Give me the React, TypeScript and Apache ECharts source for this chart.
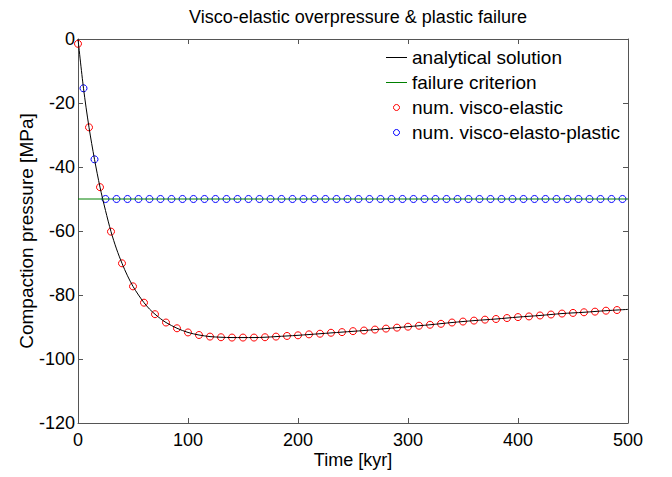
import React, { useEffect, useRef } from "react";
import * as echarts from "echarts";

const titleText = "Visco-elastic overpressure & plastic failure";
const xTicks = [0, 100, 200, 300, 400, 500];
const yTicks = [-120, -100, -80, -60, -40, -20, 0];

const analyticalTimes = [0, 5, 10, 15, 20, 25, 30, 35, 40, 45, 50, 55, 60, 65, 70, 75, 80, 90, 100, 110, 120, 130, 140, 150, 160, 170, 180, 190, 200, 220, 240, 260, 280, 300, 320, 340, 360, 380, 400, 420, 440, 460, 480, 500];
const analyticalValues = [0, -15.4, -27.6, -37.6, -46.3, -53.6, -60.2, -65.6, -70.1, -74.0, -77.3, -80.0, -82.4, -84.4, -86.0, -87.4, -88.6, -90.4, -91.7, -92.5, -93.0, -93.2, -93.3, -93.3, -93.3, -93.2, -93.0, -92.8, -92.6, -92.1, -91.6, -91.1, -90.5, -89.9, -89.3, -88.6, -88.0, -87.5, -86.9, -86.4, -85.8, -85.4, -84.9, -84.5];

const failureTimes = [0, 500];
const failureValues = [-50, -50];

const elasticTimes = [0, 10, 20, 30, 40, 50, 60, 70, 80, 90, 100, 110, 120, 130, 140, 150, 160, 170, 180, 190, 200, 210, 220, 230, 240, 250, 260, 270, 280, 290, 300, 310, 320, 330, 340, 350, 360, 370, 380, 390, 400, 410, 420, 430, 440, 450, 460, 470, 480, 490];
const elasticValues = [-1.5, -27.6, -46.3, -60.2, -70.1, -77.3, -82.4, -86.0, -88.6, -90.4, -91.7, -92.5, -93.0, -93.2, -93.3, -93.3, -93.3, -93.2, -93.0, -92.8, -92.6, -92.3, -92.1, -91.8, -91.6, -91.3, -91.1, -90.8, -90.5, -90.2, -89.9, -89.6, -89.3, -89.0, -88.6, -88.3, -88.0, -87.7, -87.5, -87.2, -86.9, -86.7, -86.4, -86.1, -85.8, -85.6, -85.4, -85.2, -84.9, -84.7];

const plasticTimes = [5, 15, 25, 35, 45, 55, 65, 75, 85, 95, 105, 115, 125, 135, 145, 155, 165, 175, 185, 195, 205, 215, 225, 235, 245, 255, 265, 275, 285, 295, 305, 315, 325, 335, 345, 355, 365, 375, 385, 395, 405, 415, 425, 435, 445, 455, 465, 475, 485, 495];
const plasticValues = [-15.4, -37.6, -50, -50, -50, -50, -50, -50, -50, -50, -50, -50, -50, -50, -50, -50, -50, -50, -50, -50, -50, -50, -50, -50, -50, -50, -50, -50, -50, -50, -50, -50, -50, -50, -50, -50, -50, -50, -50, -50, -50, -50, -50, -50, -50, -50, -50, -50, -50, -50];

const names = ["analytical solution", "failure criterion", "num. visco-elastic", "num. visco-elasto-plastic"];

const zip = (a: number[], b: number[]) => a.map((v, i) => [v, b[i]]);

const FONT = "Liberation Sans";
const AXIS_COLOR = "#555";
const LINE_ICON = "path://M0,0 L21,0 L21,1 L0,1 Z";

export default function App() {
  const ref = useRef<HTMLDivElement>(null);
  useEffect(() => {
    if (!ref.current) return;
    const chart = echarts.init(ref.current, undefined, { renderer: "svg" });
    const xMin = xTicks[0], xMax = xTicks[xTicks.length - 1];
    const yMin = yTicks[0], yMax = yTicks[yTicks.length - 1];
    const xInt = xTicks[1] - xTicks[0];
    const yInt = yTicks[1] - yTicks[0];
    const axisCommon = {
      axisLine: { show: true, onZero: false, lineStyle: { color: AXIS_COLOR, width: 1 } },
      axisTick: { show: true, inside: true, length: 5, lineStyle: { color: AXIS_COLOR } },
      splitLine: { show: false },
    };
    chart.setOption({
      animation: false,
      backgroundColor: "#fff",
      title: {
        text: titleText,
        left: 353,
        textAlign: "center",
        top: 3,
        textStyle: { fontFamily: FONT, fontSize: 18, fontWeight: "normal", color: "#000" },
      },
      legend: {
        orient: "vertical",
        left: 381,
        top: 43,
        itemWidth: 21,
        itemHeight: 6,
        itemGap: 6,
        textStyle: { fontFamily: FONT, fontSize: 19, color: "#000" },
        data: [
          { name: names[0], icon: LINE_ICON },
          { name: names[1], icon: LINE_ICON },
          { name: names[2], itemStyle: { borderWidth: 1, borderColor: "#ff0000", color: "rgba(255,255,255,0)" } },
          { name: names[3], itemStyle: { borderWidth: 1, borderColor: "#0000ff", color: "rgba(255,255,255,0)" } },
        ],
      },
      grid: { left: 78, right: 44, top: 39, bottom: 54, containLabel: false },
      xAxis: [
        {
          type: "value",
          min: xMin,
          max: xMax,
          interval: xInt,
          position: "bottom",
          name: "Time [kyr]",
          nameLocation: "middle",
          nameGap: 28,
          nameMoveOverlap: false,
          nameTextStyle: { fontFamily: FONT, fontSize: 18, color: "#000" },
          axisLabel: { fontFamily: FONT, fontSize: 18, color: "#000", margin: 8 },
          ...axisCommon,
        },
        {
          type: "value",
          min: xMin,
          max: xMax,
          interval: xInt,
          position: "top",
          axisLabel: { show: false },
          ...axisCommon,
        },
      ],
      yAxis: [
        {
          type: "value",
          min: yMin,
          max: yMax,
          interval: yInt,
          position: "left",
          name: "Compaction pressure [MPa]",
          nameLocation: "middle",
          nameGap: 42,
          nameMoveOverlap: false,
          nameTextStyle: { fontFamily: FONT, fontSize: 19, color: "#000" },
          axisLabel: { fontFamily: FONT, fontSize: 18, color: "#000", margin: 3 },
          ...axisCommon,
        },
        {
          type: "value",
          min: yMin,
          max: yMax,
          interval: yInt,
          position: "right",
          axisLabel: { show: false },
          ...axisCommon,
        },
      ],
      series: [
        {
          name: names[0],
          type: "line",
          xAxisIndex: 0,
          yAxisIndex: 0,
          data: zip(analyticalTimes, analyticalValues),
          smooth: 0.3,
          symbol: "none",
          lineStyle: { color: "#000", width: 1 },
          itemStyle: { color: "#000" },
        },
        {
          name: names[1],
          type: "line",
          xAxisIndex: 0,
          yAxisIndex: 0,
          data: zip(failureTimes, failureValues),
          symbol: "none",
          lineStyle: { color: "#008000", width: 1 },
          itemStyle: { color: "#008000" },
        },
        {
          name: names[2],
          type: "scatter",
          xAxisIndex: 0,
          yAxisIndex: 0,
          data: zip(elasticTimes, elasticValues),
          symbol: "circle",
          symbolSize: 7,
          itemStyle: { color: "rgba(255,255,255,0)", borderColor: "#ff0000", borderWidth: 1, opacity: 1 },
        },
        {
          name: names[3],
          type: "scatter",
          xAxisIndex: 0,
          yAxisIndex: 0,
          data: zip(plasticTimes, plasticValues),
          symbol: "circle",
          symbolSize: 7,
          itemStyle: { color: "rgba(255,255,255,0)", borderColor: "#0000ff", borderWidth: 1, opacity: 1 },
        },
      ],
    });
    return () => chart.dispose();
  }, []);
  return <div ref={ref} style={{ position: "fixed", left: 0, top: 0, width: 672, height: 477 }} />;
}
